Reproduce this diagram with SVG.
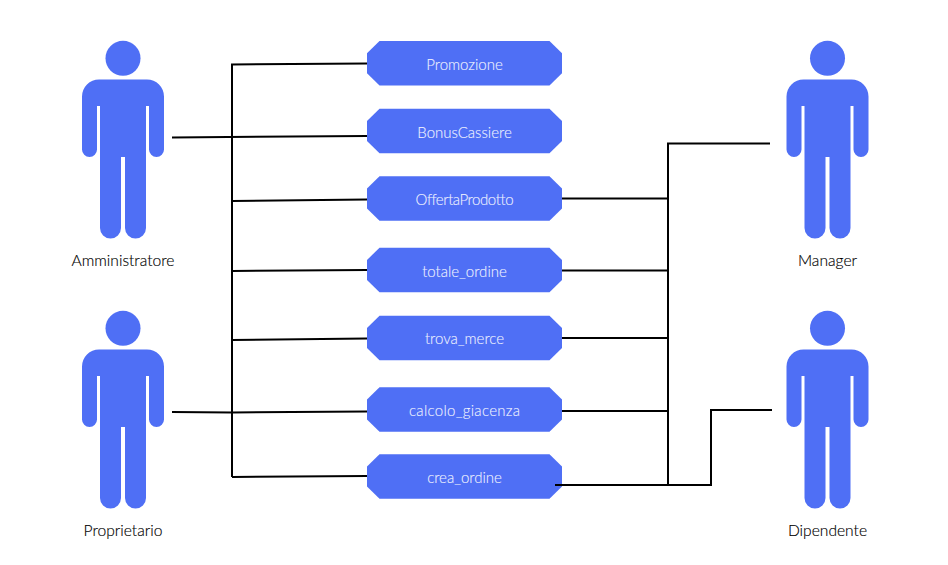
<svg xmlns="http://www.w3.org/2000/svg" width="948" height="565" viewBox="0 0 948 565">
<style>
.bg{fill:#fff}
.w{stroke:#000;stroke-width:2;fill:none}
.b{fill:#4f6ff5}
.l{font-family:"Lato","Noto Sans",sans-serif;font-weight:300;font-size:15.6px;text-anchor:middle;fill:#000;stroke:#000;stroke-width:.15px}
.u{font-family:"Lato","Noto Sans",sans-serif;font-weight:300;font-size:15px;text-anchor:middle;fill:#f0f3ff;stroke:#f0f3ff;stroke-width:.1px}
</style>
<defs>
<g id="person">
<circle cx="0" cy="17.300" r="17.500" class="b"/>
<path class="b" d="M-24 38.500H24A17 17 0 0 1 41 55.500V108.500A7.500 7.500 0 0 1 26 108.500V65H23V187A10.500 10.500 0 0 1 2 187V116H-2V187A10.500 10.500 0 0 1 -23 187V65H-26V108.500A7.500 7.500 0 0 1 -41 108.500V55.500A17 17 0 0 1 -24 38.500Z"/>
</g>
<polygon id="uc" class="b" points="-85,-22.300 85,-22.300 97.500,-10 97.500,10 85,22.300 -85,22.300 -97.500,10 -97.500,-10"/>
</defs>
<rect class="bg" width="948" height="565"/>
<g id="connectors">
<path class="w" d="M232 477V64.500L367 63.500"/>
<path class="w" d="M172 137.500L367 136"/>
<path class="w" d="M232 201L367 199.500"/>
<path class="w" d="M232 271L367 270"/>
<path class="w" d="M232 340L367 338.500"/>
<path class="w" d="M172 412L232 412.500L367 411.500"/>
<path class="w" d="M232 477L367 476"/>
<path class="w" d="M770 143.500H668V485"/>
<path class="w" d="M562 198.500H668"/>
<path class="w" d="M562 270.500H668"/>
<path class="w" d="M562 338H668"/>
<path class="w" d="M562 411H668"/>
</g>
<g id="actor-amministratore"><use href="#person" x="123" y="41"/><text class="l" x="123" y="266">Amministratore</text></g>
<g id="actor-proprietario"><use href="#person" x="123" y="311"/><text class="l" x="123" y="536">Proprietario</text></g>
<g id="actor-manager"><use href="#person" x="827.500" y="41"/><text class="l" x="827.500" y="266">Manager</text></g>
<g id="actor-dipendente"><use href="#person" x="827.500" y="311"/><text class="l" x="827.500" y="536">Dipendente</text></g>
<g id="uc-promozione"><use href="#uc" x="464.500" y="63.300"/><text class="u" x="464.500" y="69.500">Promozione</text></g>
<g id="uc-bonuscassiere"><use href="#uc" x="464.500" y="131"/><text class="u" x="464.500" y="137.500">BonusCassiere</text></g>
<g id="uc-offertaprodotto"><use href="#uc" x="464.500" y="198.500"/><text class="u" x="464.500" y="204.500" textLength="98">OffertaProdotto</text></g>
<g id="uc-totale_ordine"><use href="#uc" x="464.500" y="270"/><text class="u" x="464.500" y="276.500">totale_ordine</text></g>
<g id="uc-trova_merce"><use href="#uc" x="464.500" y="338"/><text class="u" x="464.500" y="343.500">trova_merce</text></g>
<g id="uc-calcolo_giacenza"><use href="#uc" x="464.500" y="409.500"/><text class="u" x="464.500" y="415.500" textLength="111">calcolo_giacenza</text></g>
<g id="uc-crea_ordine"><use href="#uc" x="464.500" y="476.500"/><text class="u" x="464.500" y="482.500">crea_ordine</text></g>
<path id="connector-crea-ordine" class="w" d="M555 485H711V410H772"/>
</svg>
